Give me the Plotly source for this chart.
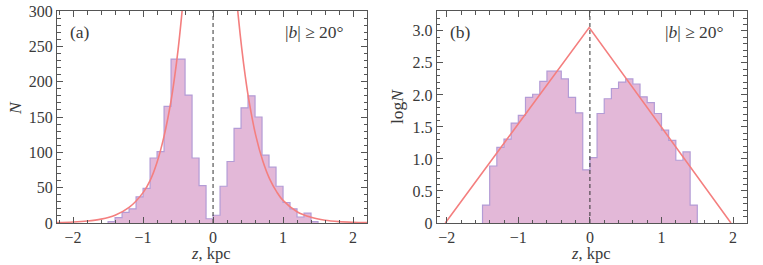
import plotly.graph_objects as go

# ---- data ----
bin_edges = [round(-1.5 + 0.1 * i, 1) for i in range(31)]
counts_a = [2, 7.5, 15, 20, 37, 49, 92, 101, 165, 232, 232, 181, 92, 53, 6,
            11, 52, 87, 134, 163, 180, 150, 96, 79, 52, 29, 20, 8.5, 14, 2]
logn_b = [0.28, 0.89, 1.18, 1.31, 1.56, 1.68, 1.96, 2.01, 2.21, 2.37, 2.37, 2.25, 1.96, 1.72, 0.83,
          1.02, 1.71, 1.94, 2.10, 2.20, 2.25, 2.17, 1.97, 1.88, 1.71, 1.45, 1.29, 0.98, 1.11, 0.28]

fit_a_left_z = [-2.23, -2.0, -1.8, -1.6, -1.4, -1.2, -1.0, -0.9, -0.8, -0.7, -0.6, -0.55, -0.5, -0.45, -0.42]
fit_a_left_n = [0.6, 1.4, 2.8, 5.5, 11, 22, 43, 60, 86, 123, 173, 206, 245, 292, 325]
fit_a_right_z = [0.33, 0.36, 0.41, 0.46, 0.51, 0.61, 0.71, 0.81, 0.91, 1.0, 1.2, 1.4, 1.6, 1.8, 2.0, 2.2]
fit_a_right_n = [325, 293, 247, 208, 175, 124, 88, 62, 44, 32, 16, 8.1, 4.0, 2.0, 1.0, 0.5]

fit_b_z = [-2.02, -0.01, 1.97]
fit_b_logn = [0.0, 3.05, 0.0]

x_ticks = [-2, -1, 0, 1, 2]
y_ticks_a = [0, 50, 100, 150, 200, 250, 300]
y_ticks_b = [0, 0.5, 1.0, 1.5, 2.0, 2.5, 3.0]
y_ticklabels_b = ["0", "0.5", "1.0", "1.5", "2.0", "2.5", "3.0"]

# ---- styles ----
FILL = "#e3b8d8"
EDGE = "#b39cd6"
CURVE = "#f47f7f"
TXT = "#3a3a3a"
FRAME = "#555555"
FONT = "Liberation Serif, Times New Roman, serif"


def step_path(edges, vals):
    xs = [edges[0]] + list(edges[:-1]) + [edges[-1], edges[-1]]
    ys = [0] + list(vals) + [vals[-1], 0]
    return xs, ys


fig = go.Figure()

# panel (a)
xa, ya = step_path(bin_edges, counts_a)
fig.add_trace(go.Scatter(x=xa, y=ya, mode="lines", line=dict(shape="hv", color=EDGE, width=1.2),
                         fill="tozeroy", fillcolor=FILL, xaxis="x", yaxis="y", showlegend=False))
fig.add_trace(go.Scatter(x=[0, 0], y=[0, 300], mode="lines",
                         line=dict(color="#333333", width=1, dash="4px,3px"),
                         xaxis="x", yaxis="y", showlegend=False))
fig.add_trace(go.Scatter(x=fit_a_left_z, y=fit_a_left_n, mode="lines",
                         line=dict(color=CURVE, width=1.6, shape="spline"),
                         xaxis="x", yaxis="y", showlegend=False))
fig.add_trace(go.Scatter(x=fit_a_right_z, y=fit_a_right_n, mode="lines",
                         line=dict(color=CURVE, width=1.6, shape="spline"),
                         xaxis="x", yaxis="y", showlegend=False))

# panel (b)
xb, yb = step_path(bin_edges, logn_b)
fig.add_trace(go.Scatter(x=xb, y=yb, mode="lines", line=dict(shape="hv", color=EDGE, width=1.2),
                         fill="tozeroy", fillcolor=FILL, xaxis="x2", yaxis="y2", showlegend=False))
fig.add_trace(go.Scatter(x=[0, 0], y=[0, 3.31], mode="lines",
                         line=dict(color="#333333", width=1, dash="4px,3px"),
                         xaxis="x2", yaxis="y2", showlegend=False))
fig.add_trace(go.Scatter(x=fit_b_z, y=fit_b_logn, mode="lines",
                         line=dict(color=CURVE, width=1.6),
                         xaxis="x2", yaxis="y2", showlegend=False))

W, H = 763, 265
yd = [1 - 223 / H, 1 - 11 / H]

axis_common = dict(showline=True, linecolor=FRAME, linewidth=1, mirror="allticks",
                   ticks="inside", ticklen=6, tickcolor=FRAME, tickwidth=1,
                   showgrid=False, zeroline=False, automargin=False,
                   tickfont=dict(family=FONT, size=16, color=TXT))

fig.update_layout(
    template="none",
    width=W, height=H,
    margin=dict(l=0, r=0, t=0, b=0, pad=0),
    paper_bgcolor="white", plot_bgcolor="white",
    xaxis=dict(domain=[57 / W, 367 / W], range=[-2.23, 2.2], tickvals=x_ticks,
               minor=dict(dtick=0.2, tick0=0, ticks="inside", ticklen=3.5, tickcolor=FRAME),
               anchor="y", **axis_common),
    yaxis=dict(domain=yd, range=[0, 300], tickvals=y_ticks_a,
               minor=dict(dtick=10, tick0=0, ticks="inside", ticklen=3.5, tickcolor=FRAME),
               anchor="x", **axis_common),
    xaxis2=dict(domain=[436.7 / W, 746.7 / W], range=[-2.14, 2.19], tickvals=x_ticks,
                minor=dict(dtick=0.2, tick0=0, ticks="inside", ticklen=3.5, tickcolor=FRAME),
                anchor="y2", **axis_common),
    yaxis2=dict(domain=yd, range=[0, 3.31], tickvals=y_ticks_b, ticktext=y_ticklabels_b,
                minor=dict(dtick=0.1, tick0=0, ticks="inside", ticklen=3.5, tickcolor=FRAME),
                anchor="x2", **axis_common),
)

ann_font = dict(family=FONT, size=17.5, color=TXT)
title_font = dict(family=FONT, size=16.5, color=TXT)
anns = [
    dict(text="(a)", x=68, y=32, xanchor="left", font=ann_font),
    dict(text="|<i>b</i>| ≥ 20°", x=346, y=32, xanchor="right", font=ann_font),
    dict(text="(b)", x=448, y=32, xanchor="left", font=ann_font),
    dict(text="|<i>b</i>| ≥ 20°", x=726, y=32, xanchor="right", font=ann_font),
    dict(text="<i>z</i>, kpc", x=211, y=253.5, xanchor="center", font=title_font),
    dict(text="<i>z</i>, kpc", x=591, y=253.5, xanchor="center", font=title_font),
]
for a in anns:
    fig.add_annotation(text=a["text"], x=a["x"] / W, y=1 - a["y"] / H, xref="paper", yref="paper",
                       xanchor=a["xanchor"], yanchor="middle", showarrow=False, font=a["font"])
fig.add_annotation(text="<i>N</i>", x=15 / W, y=1 - 108 / H, xref="paper", yref="paper",
                   textangle=-90, showarrow=False, font=ann_font, xanchor="center", yanchor="middle")
fig.add_annotation(text="log<i>N</i>", x=397 / W, y=1 - 107 / H, xref="paper", yref="paper",
                   textangle=-90, showarrow=False, font=ann_font, xanchor="center", yanchor="middle")

fig.write_html("out.html",
               config={"displayModeBar": False},
               post_script="document.body.style.margin='0';document.body.style.overflow='hidden';")
